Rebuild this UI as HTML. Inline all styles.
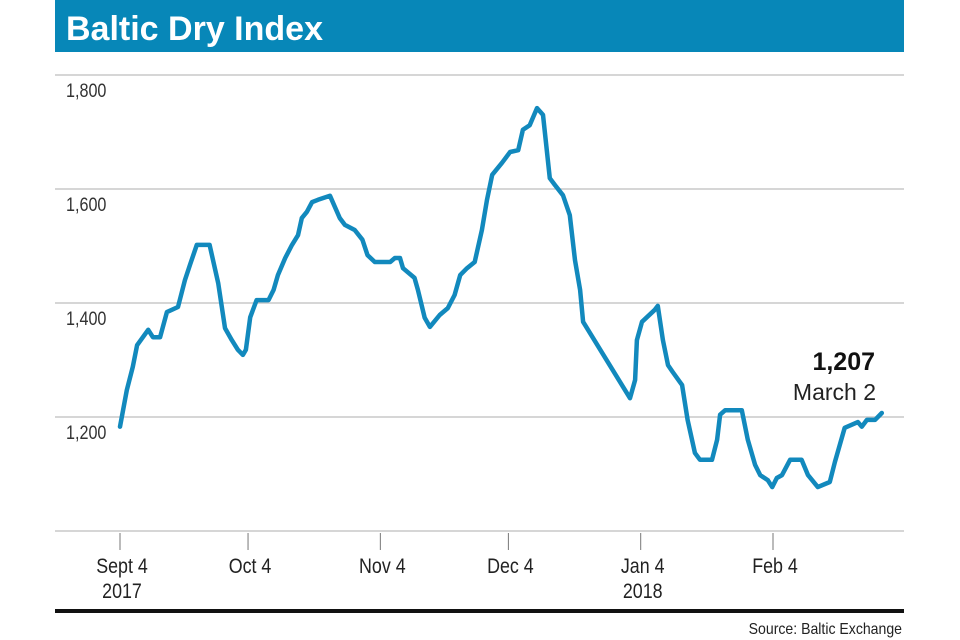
<!DOCTYPE html>
<html><head><meta charset="utf-8"><style>
html,body{margin:0;padding:0;background:#fff;width:960px;height:640px;overflow:hidden}
svg{display:block}
</style></head><body>
<svg id="c" width="960" height="640" xmlns="http://www.w3.org/2000/svg">
<rect x="55" y="0" width="849" height="52" fill="#0787b8"/>
<text x="66" y="40" font-family="Liberation Sans, sans-serif" font-weight="bold" font-size="34" fill="#fff">Baltic Dry Index</text>
<g id="grid"></g>
<g id="ylab"></g>
<g id="xax"></g>
<path id="line" fill="none" stroke="#1289bd" stroke-width="4.5" stroke-linejoin="round" stroke-linecap="round"/>
<text x="875" y="370" text-anchor="end" font-family="Liberation Sans, sans-serif" font-weight="bold" font-size="25" fill="#111">1,207</text>
<text x="876" y="400" text-anchor="end" font-family="Liberation Sans, sans-serif" font-size="23" fill="#222">March 2</text>
<rect x="55" y="609" width="849" height="4" fill="#111"/>
<text x="902" y="634" text-anchor="end" font-family="Liberation Sans, sans-serif" font-size="16" fill="#222" transform="translate(902,634) scale(0.88,1) translate(-902,-634)">Source: Baltic Exchange</text>
</svg>
<script>
const days=[0,1.6,3,4,6.6,7.7,9.4,11,13.6,15.2,16.4,18,21,23,24.6,26.2,27.6,28.8,29.5,30.5,32,34.8,36,37,38.7,40.3,41.7,42.6,43.8,45,46.4,49.2,51.5,52.7,55,56.8,58,59.7,63.3,64.4,65.6,66.3,69,69.8,71.4,72.6,74.9,76.8,78.4,79.7,81.3,83.1,84.8,86,87.2,89.5,91.4,93.3,94.4,96,97.7,99.1,100.7,101.9,103.8,105.4,106.6,107.8,108.5,119.5,120.7,121.1,122.3,125.3,126,127.2,128.4,129.5,131.7,133,134.7,135.9,138.7,139.9,140.6,141.8,145.7,147.1,148.8,150,151.8,152.8,153.9,155.1,157,159.7,161.2,163.5,166.3,167.5,169.8,172.9,173.8,175,176.9,178.5];
const values=[1183,1247,1288,1326,1353,1340,1340,1384,1393,1440,1467,1502,1502,1435,1356,1335,1318,1309,1318,1375,1405,1405,1423,1449,1479,1502,1519,1549,1560,1577,1581,1588,1549,1537,1528,1511,1484,1472,1472,1479,1479,1461,1444,1423,1374,1358,1379,1391,1414,1449,1461,1472,1528,1581,1625,1646,1665,1668,1704,1712,1742,1730,1619,1607,1589,1554,1475,1423,1367,1233,1265,1335,1367,1388,1395,1335,1291,1279,1256,1195,1137,1125,1125,1160,1204,1212,1212,1160,1116,1098,1089,1077,1093,1098,1125,1125,1098,1077,1086,1121,1181,1191,1183,1195,1195,1207];
const yTicks=[1000,1200,1400,1600,1800];
const yTickLabels=["","1,200","1,400","1,600","1,800"];
const xTickDays=[0,30,61,91,122,153];
const xTickLabels=["Sept 4","Oct 4","Nov 4","Dec 4","Jan 4","Feb 4"];
const xTickYears=["2017","","","","2018",""];
const NS="http://www.w3.org/2000/svg";
const X=d=>120+d*4.268;
const Y=v=>531-(v-1000)*0.57;
function mk(t,a,p){const e=document.createElementNS(NS,t);for(const k in a)e.setAttribute(k,a[k]);p.appendChild(e);return e;}
const grid=document.getElementById('grid'),ylab=document.getElementById('ylab'),xax=document.getElementById('xax');
const cond=(x,y)=>`translate(${x},${y}) scale(0.85,1) translate(${-x},${-y})`;
yTicks.forEach((v,i)=>{
  const l=mk('line',{x1:55,x2:904,y1:Y(v),y2:Y(v),stroke:'#bdbdbd','stroke-width':1.3},grid);
  
  
  if(yTickLabels[i]){
    const t=mk('text',{x:66,y:Y(v)+22,'font-family':'Liberation Sans, sans-serif','font-size':19,fill:'#333',transform:cond(66,Y(v)+22)},ylab);
    t.textContent=yTickLabels[i];
    
    
  }
});
xTickDays.forEach((d,i)=>{
  const l=mk('line',{x1:X(d),x2:X(d),y1:533,y2:550,stroke:'#777','stroke-width':1},xax);
  
  
  const t=mk('text',{x:X(d)+2,y:573,'text-anchor':'middle','font-family':'Liberation Sans, sans-serif','font-size':21,fill:'#222',transform:cond(X(d)+2,573)},xax);
  t.textContent=xTickLabels[i];
  
  
  if(xTickYears[i]){
    const y=mk('text',{x:X(d)+2,y:598,'text-anchor':'middle','font-family':'Liberation Sans, sans-serif','font-size':21,fill:'#222',transform:cond(X(d)+2,598)},xax);
    y.textContent=xTickYears[i];
    
    
  }
});
document.getElementById('line').setAttribute('d',days.map((d,i)=>(i?'L':'M')+X(d).toFixed(1)+','+Y(values[i]).toFixed(1)).join(''));
</script>
</body></html>
